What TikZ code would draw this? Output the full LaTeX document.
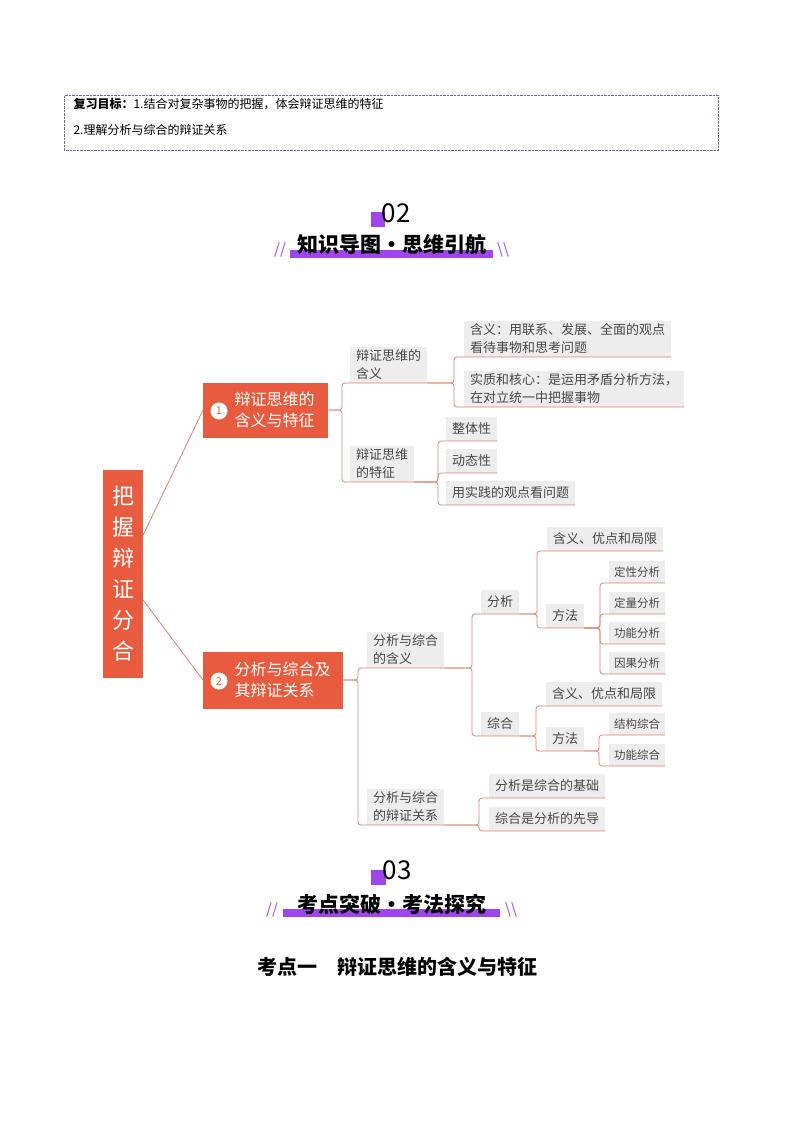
\documentclass[tikz,border=0pt]{standalone}
\usepackage{fontspec}
\setmainfont{Noto Sans CJK SC}
\usetikzlibrary{calc}
\definecolor{mmorange}{HTML}{E85B3E}
\definecolor{mmline}{HTML}{E07F68}
\definecolor{mmpurple}{HTML}{A044EE}
\definecolor{boxpurple}{HTML}{7E5CB8}
\tikzset{
  leaf/.style={fill=black!7,text=black!72,font=\fontsize{13}{18}\selectfont,inner xsep=6pt,inner ysep=3pt,anchor=south west,align=left,minimum height=24pt},
  small/.style={leaf,font=\fontsize{11.5}{14}\selectfont,minimum height=22pt,inner xsep=5pt},
  mainbox/.style={fill=mmorange,minimum width=125pt,minimum height=55pt,anchor=west},
  maintext/.style={text=white,font=\fontsize{16}{21}\selectfont,align=left},
  numdot/.style={circle,fill=white,text=mmorange,inner sep=0pt,minimum size=17pt,font=\fontsize{11}{11}\selectfont},
  conn/.style={draw=mmline,line width=0.8pt,rounded corners=3pt},
  slash/.style={text=mmpurple,font=\fontsize{15}{15}\selectfont\itshape},
}
\begin{document}
\begin{tikzpicture}[x=1pt,y=-1pt]
\useasboundingbox (0,0) rectangle (793,1122);
%% review goals
\node (goal) [draw=boxpurple,densely dotted,minimum width=654pt,minimum height=55pt,anchor=north west] at (64,95) {};
\node (goal1) [anchor=west,font=\fontsize{12}{14}\selectfont] at (70,104) {\textbf{复习目标：}1.结合对复杂事物的把握，体会辩证思维的特征};
\node (goal2) [anchor=west,font=\fontsize{12}{14}\selectfont] at (70,130) {2.理解分析与综合的辩证关系};
%% section 02
\fill[mmpurple] (371,212) rectangle (385,227);
\node (sec2) [font=\fontsize{26}{26}\selectfont] at (396,213) {02};
\fill[mmpurple] (290,250) rectangle (493,258);
\node (title2) [font=\fontsize{21}{21}\selectfont\bfseries] at (392,245) {知识导图•思维引航};
\node (s2l) [slash] at (280,250) {//};
\node (s2r) [slash] at (503,250) {\textbackslash\textbackslash};
%% mind map
\node (root) [fill=mmorange,text=white,minimum width=40pt,minimum height=208pt,align=center,font=\fontsize{22}{31}\selectfont] at (123,574) {把\\握\\辩\\证\\分\\合};
\node (n1) [mainbox] at (203,410) {};
\node (n1c) [numdot] at (219,411) {1};
\node (n1t) [maintext,anchor=west] at (231,410) {辩证思维的\\含义与特征};
\node (n2) [mainbox,minimum width=140pt,minimum height=57pt] at (203,680) {};
\node (n2c) [numdot] at (219,681) {2};
\node (n2t) [maintext,anchor=west] at (231,680) {分析与综合及\\其辩证关系};
\draw[conn] ($(root.east)+(0,-39)$) -- (n1.west);
\draw[conn] ($(root.east)+(0,26)$) -- (n2.west);
%
\node (A1) [leaf] at (350,383) {辩证思维的\\含义};
\node (A2) [leaf] at (350,482) {辩证思维\\的特征};
\node (A11) [leaf] at (464,357) {含义：用联系、发展、全面的观点\\看待事物和思考问题};
\node (A12) [leaf] at (464,407) {实质和核心：是运用矛盾分析方法，\\在对立统一中把握事物};
\node (A21) [leaf] at (446,441) {整体性};
\node (A22) [leaf] at (446,473) {动态性};
\node (A23) [leaf] at (446,505) {用实践的观点看问题};
\node (B1) [leaf] at (367,668) {分析与综合\\的含义};
\node (B2) [leaf] at (367,825) {分析与综合\\的辩证关系};
\node (B11) [leaf] at (481,614) {分析};
\node (B12) [leaf] at (481,736) {综合};
\node (B111) [leaf] at (547,551) {含义、优点和局限};
\node (B112) [leaf] at (546,628) {方法};
\node (B1121) [small] at (609,583) {定性分析};
\node (B1122) [small] at (609,614) {定量分析};
\node (B1123) [small] at (609,644) {功能分析};
\node (B1124) [small] at (609,674) {因果分析};
\node (B121) [leaf] at (546,706) {含义、优点和局限};
\node (B122) [leaf] at (546,751) {方法};
\node (B1221) [small] at (609,735) {结构综合};
\node (B1222) [small] at (609,766) {功能综合};
\node (B21) [leaf] at (489,798) {分析是综合的基础};
\node (B22) [leaf] at (489,831) {综合是分析的先导};
%% connectors
\coordinate (bn1) at (342,410);
\coordinate (bn2) at (358,680);
\coordinate (bA1) at (454,383);
\coordinate (bA2) at (438,482);
\coordinate (bB1) at (472,668);
\coordinate (bB2) at (479,825);
\coordinate (bB11) at (537,614);
\coordinate (bB112) at (600,628);
\coordinate (bB12) at (536,736);
\coordinate (bB122) at (599,751);
\foreach \c in {A1,A2} \draw[conn] (n1.east) -- (bn1) |- (\c.south west) -- (\c.south east);
\foreach \c in {B1,B2} \draw[conn] (n2.east) -- (bn2) |- (\c.south west) -- (\c.south east);
\foreach \c in {A11,A12} \draw[conn] (A1.south east) -- (bA1) |- (\c.south west) -- (\c.south east);
\foreach \c in {A21,A22,A23} \draw[conn] (A2.south east) -- (bA2) |- (\c.south west) -- (\c.south east);
\foreach \c in {B11,B12} \draw[conn] (B1.south east) -- (bB1) |- (\c.south west) -- (\c.south east);
\foreach \c in {B21,B22} \draw[conn] (B2.south east) -- (bB2) |- (\c.south west) -- (\c.south east);
\foreach \c in {B111,B112} \draw[conn] (B11.south east) -- (bB11) |- (\c.south west) -- (\c.south east);
\foreach \c in {B1121,B1122,B1123,B1124} \draw[conn] (B112.south east) -- (bB112) |- (\c.south west) -- (\c.south east);
\foreach \c in {B121,B122} \draw[conn] (B12.south east) -- (bB12) |- (\c.south west) -- (\c.south east);
\foreach \c in {B1221,B1222} \draw[conn] (B122.south east) -- (bB122) |- (\c.south west) -- (\c.south east);
%% section 03
\fill[mmpurple] (371,870) rectangle (386,885);
\node (sec3) [font=\fontsize{26}{26}\selectfont] at (397,870) {03};
\fill[mmpurple] (283,909) rectangle (500,917);
\node (title3) [font=\fontsize{21}{21}\selectfont\bfseries] at (392,904) {考点突破•考法探究};
\node (s3l) [slash] at (272,910) {//};
\node (s3r) [slash] at (511,910) {\textbackslash\textbackslash};
\node (kd1) [font=\fontsize{20}{20}\selectfont\bfseries] at (397,967) {考点一\quad 辩证思维的含义与特征};
\end{tikzpicture}
\end{document}
